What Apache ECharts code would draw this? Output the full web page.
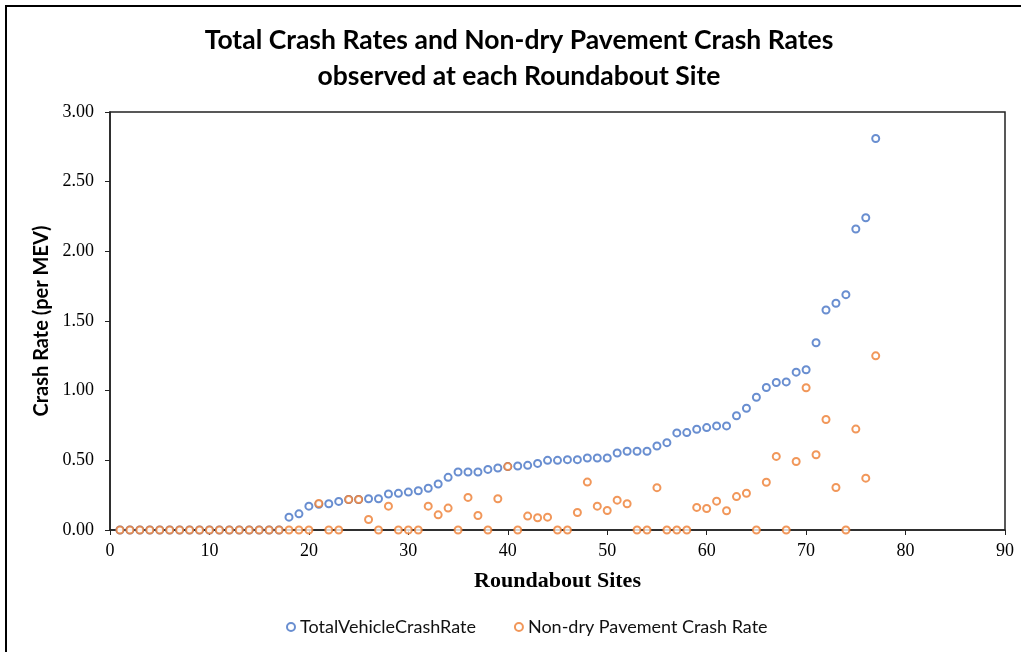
<!DOCTYPE html>
<html>
<head>
<meta charset="utf-8">
<script src="https://cdn.jsdelivr.net/npm/echarts@6/dist/echarts.min.js"></script>
<style>
  html, body { margin: 0; padding: 0; background: #fff; }
  #chart { width: 1021px; height: 652px; }
</style>
</head>
<body>
<div id="chart"></div>
<script>
// roundabout site numbers 1..77
const sites = [
  1, 2, 3, 4, 5, 6, 7, 8, 9, 10, 11, 12, 13, 14, 15, 16, 17, 18, 19, 20,
  21, 22, 23, 24, 25, 26, 27, 28, 29, 30, 31, 32, 33, 34, 35, 36, 37, 38, 39, 40,
  41, 42, 43, 44, 45, 46, 47, 48, 49, 50, 51, 52, 53, 54, 55, 56, 57, 58, 59, 60,
  61, 62, 63, 64, 65, 66, 67, 68, 69, 70, 71, 72, 73, 74, 75, 76, 77
]
// total vehicle crash rate (per MEV)
const totalRate = [
  0, 0, 0, 0, 0, 0, 0, 0, 0, 0, 0, 0, 0, 0, 0, 0, 0, 0.092, 0.116, 0.171,
  0.185, 0.188, 0.205, 0.219, 0.219, 0.224, 0.224, 0.258, 0.263, 0.272, 0.282, 0.30, 0.33, 0.378, 0.416, 0.416, 0.416, 0.435, 0.445, 0.455,
  0.459, 0.464, 0.478, 0.50, 0.50, 0.505, 0.505, 0.517, 0.517, 0.517, 0.553, 0.565, 0.565, 0.565, 0.603, 0.627, 0.697, 0.699, 0.723, 0.735,
  0.747, 0.747, 0.82, 0.874, 0.953, 1.023, 1.059, 1.063, 1.133, 1.15, 1.344, 1.579, 1.627, 1.689, 2.16, 2.241, 2.81
]
// non-dry pavement crash rate
const nonDryRate = [
  0, 0, 0, 0, 0, 0, 0, 0, 0, 0, 0, 0, 0, 0, 0, 0, 0, 0, 0, 0,
  0.19, 0, 0, 0.219, 0.219, 0.075, 0, 0.171, 0, 0, 0, 0.171, 0.109, 0.157, 0, 0.234, 0.104, 0, 0.224, 0.455,
  0, 0.10, 0.088, 0.092, 0, 0, 0.126, 0.344, 0.171, 0.14, 0.214, 0.188, 0, 0, 0.304, 0, 0, 0, 0.162, 0.154,
  0.207, 0.138, 0.24, 0.264, 0, 0.343, 0.528, 0, 0.492, 1.021, 0.54, 0.793, 0.305, 0, 0.724, 0.372, 1.25
]
const titleText = 'Total Crash Rates and Non-dry Pavement Crash Rates\nobserved at each Roundabout Site'

const myChart = echarts.init(document.getElementById('chart'))

const pairs = (vals) => sites.map((s, i) => [s, vals[i]])
const axisCol = '#222'

const option = {
  backgroundColor: '#fff',
  animation: false,
  graphic: [
    {
      type: 'rect',
      shape: { x: 6, y: 6, width: 1030, height: 660 },
      style: { fill: 'none', stroke: '#000', lineWidth: 2 },
      silent: true
    },
    {
      // title drawn as graphic text so both lines stay centred on x=519
      type: 'text',
      x: 519,
      y: 22,
      silent: true,
      style: {
        text: titleText,
        align: 'center',
        verticalAlign: 'top',
        fill: '#000',
        font: 'bold 26.5px Lato',
        lineHeight: 36
      }
    }
  ],
  legend: {
    bottom: 11,
    left: 281,
    itemGap: 38,
    itemWidth: 8,
    itemHeight: 8,
    textStyle: { fontFamily: 'Lato', fontSize: 18, color: '#111' },
    data: ['TotalVehicleCrashRate', 'Non-dry Pavement Crash Rate']
  },
  grid: {
    left: 110,
    right: 16,
    top: 112,
    bottom: 122,
    show: true,
    borderColor: axisCol,
    borderWidth: 1.5
  },
  xAxis: {
    type: 'value',
    min: 0,
    max: 90,
    interval: 10,
    name: 'Roundabout Sites',
    nameLocation: 'middle',
    nameGap: 40,
    nameTextStyle: { fontFamily: 'Liberation Serif', fontWeight: 'bold', fontSize: 22, color: '#000' },
    axisLine: { lineStyle: { color: axisCol, width: 1.5 } },
    axisTick: { show: true, length: 5, lineStyle: { color: axisCol } },
    axisLabel: { fontFamily: 'Liberation Serif', fontSize: 18, color: '#000', margin: 12 },
    splitLine: { show: false }
  },
  yAxis: {
    type: 'value',
    min: 0,
    max: 3,
    interval: 0.5,
    name: 'Crash Rate (per MEV)',
    nameLocation: 'middle',
    nameGap: 58,
    nameTextStyle: { fontFamily: 'Lato', fontWeight: 'bold', fontSize: 20, color: '#000' },
    axisLine: { show: true, lineStyle: { color: axisCol, width: 1.5 } },
    axisTick: { show: true, length: 5, lineStyle: { color: axisCol } },
    axisLabel: {
      fontFamily: 'Liberation Serif',
      fontSize: 18,
      color: '#000',
      margin: 16,
      formatter: (v) => v.toFixed(2)
    },
    splitLine: { show: false }
  },
  series: [
    {
      name: 'TotalVehicleCrashRate',
      type: 'scatter',
      symbol: 'emptyCircle',
      symbolSize: 7,
      itemStyle: { color: '#4472C4', borderColor: '#4472C4', borderWidth: 2 },
      data: pairs(totalRate)
    },
    {
      name: 'Non-dry Pavement Crash Rate',
      type: 'scatter',
      symbol: 'emptyCircle',
      symbolSize: 7,
      itemStyle: { color: '#ED7D31', borderColor: '#ED7D31', borderWidth: 2 },
      data: pairs(nonDryRate)
    }
  ]
}
myChart.setOption(option)
</script>
</body>
</html>
